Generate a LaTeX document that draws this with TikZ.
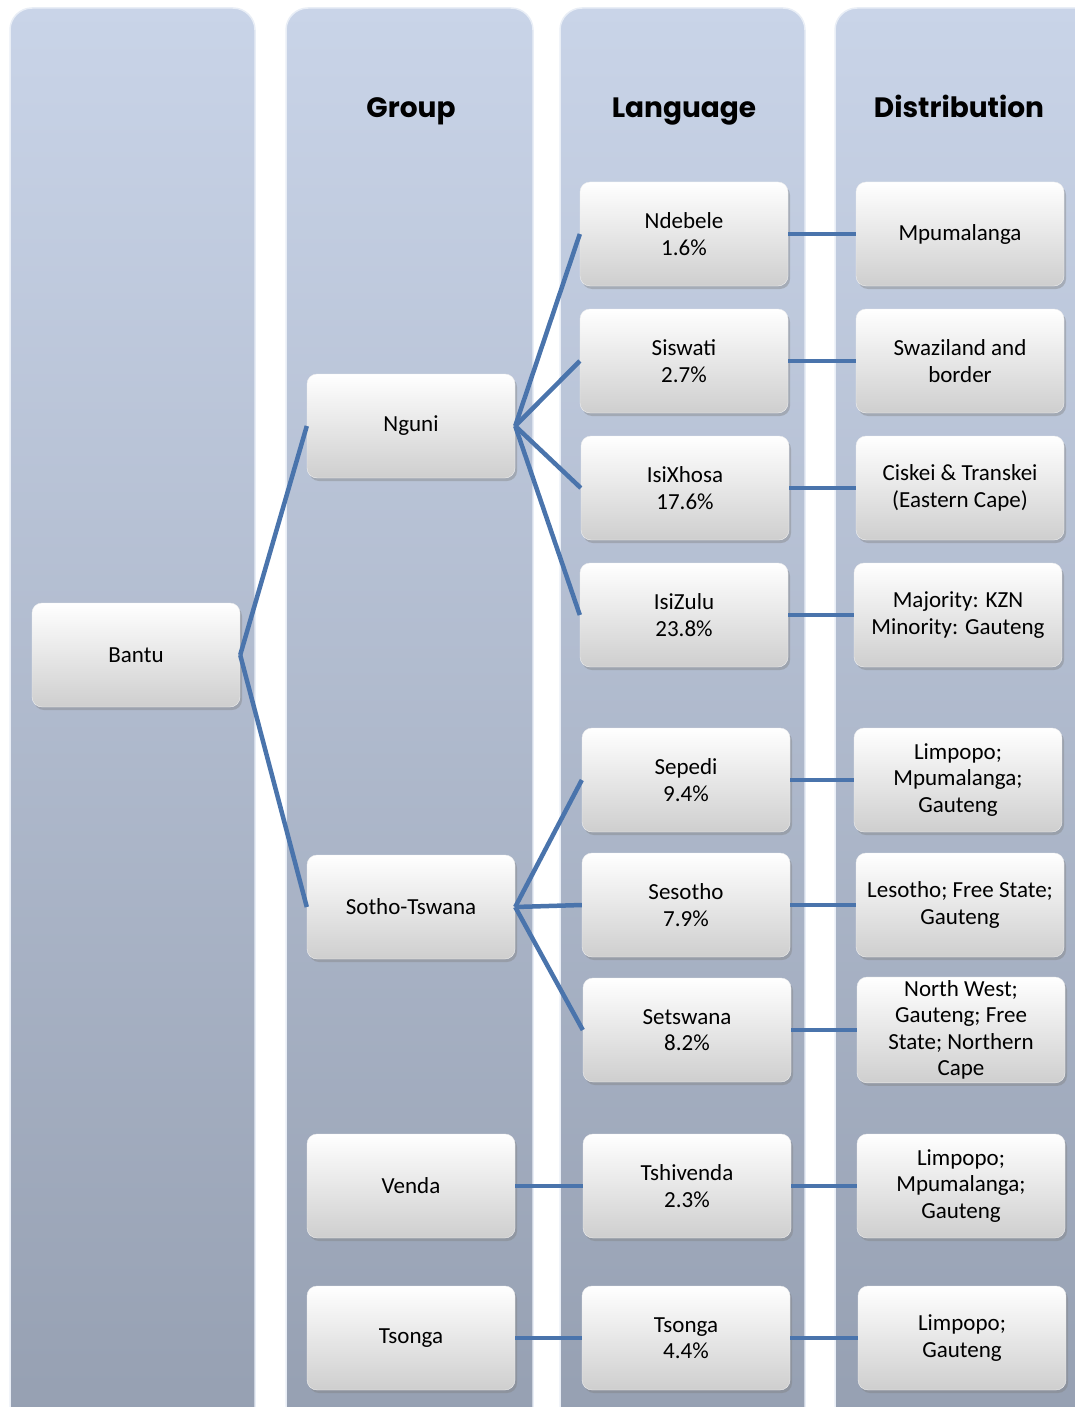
\documentclass[tikz,border=0pt]{standalone}
\usepackage{fontspec}
\setmainfont{Carlito}
\newfontfamily\headfont{Poppins}
\usepackage{xcolor}
\usetikzlibrary{shadows}

\definecolor{colTop}{HTML}{C9D4E8}
\definecolor{colBot}{HTML}{959FB1}
\definecolor{lineBlue}{HTML}{4A74AC}

\begin{document}
\begin{tikzpicture}[x=1pt,y=-1pt]
    %Coordinates are in pixels of the page, y grows downwards.
    \useasboundingbox (0,0) rectangle (1075,1407);
    \begin{scope}
        \clip (0,0) rectangle (1075,1407);
        \begin{scope}[column/.style={rounded corners=22pt, top color=colTop, bottom color=colBot, draw=white!60!colTop, line width=1.5pt}]
            \path [column] (10,8) rectangle (255,1445);
            \path [column] (286,8) rectangle (533,1445);
            \path [column] (560,8) rectangle (805,1445);
            \path [column] (835,8) rectangle (1120,1445);
        \end{scope}
    \end{scope}

    \begin{scope}[every node/.style={anchor=base, font=\headfont\bfseries\fontsize{28}{32}\selectfont}]
        \node (h1) at (411,118) {Group};
        \node (h2) at (684,118) {Language};
        \node (h3) at (959,118) {Distribution};
    \end{scope}

    \begin{scope}[every node/.style={rounded corners=10pt, minimum width=208pt, minimum height=104pt,
                top color=white, bottom color=black!19, draw=black!6,
                drop shadow={opacity=0.4, shadow xshift=2pt, shadow yshift=-3pt},
                align=center, font=\fontsize{23}{26.5}\selectfont}]
        \node (b0) at (136,655) {Bantu};

        \node (g1) at (411,426) {Nguni};
        \node (g2) at (411,907) {Sotho-Tswana};
        \node (g3) at (411,1186) {Venda};
        \node (g4) at (411,1338) {Tsonga};

        \node (l1) at (684,234) {Ndebele\\1.6\%};
        \node (l2) at (684,361) {Siswati\\2.7\%};
        \node (l3) at (685,488) {IsiXhosa\\17.6\%};
        \node (l4) at (684,615) {IsiZulu\\23.8\%};
        \node (l5) at (686,780) {Sepedi\\9.4\%};
        \node (l6) at (686,905) {Sesotho\\7.9\%};
        \node (l7) at (687,1030) {Setswana\\8.2\%};
        \node (l8) at (687,1186) {Tshivenda\\2.3\%};
        \node (l9) at (686,1338) {Tsonga\\4.4\%};

        \node (d1) at (960,234) {Mpumalanga};
        \node (d2) at (960,361) {Swaziland and\\border};
        \node (d3) at (960,488) {Ciskei \& Transkei\\(Eastern Cape)};
        \node (d4) at (958,615) {Majority: KZN\\Minority: Gauteng};
        \node (d5) at (958,780) {Limpopo;\\Mpumalanga;\\Gauteng};
        \node (d6) at (960,905) {Lesotho; Free State;\\Gauteng};
        \node (d7) at (961,1030) {North West;\\Gauteng; Free\\State; Northern\\Cape};
        \node (d8) at (961,1186) {Limpopo;\\Mpumalanga;\\Gauteng};
        \node (d9) at (962,1338) {Limpopo;\\Gauteng};
    \end{scope}

    \begin{scope}[every edge/.style={draw=lineBlue, line width=4.5pt}]
        \path (b0.east) edge (g1.west);
        \path (b0.east) edge (g2.west);

        \path (g1.east) edge (l1.west);
        \path (g1.east) edge (l2.west);
        \path (g1.east) edge (l3.west);
        \path (g1.east) edge (l4.west);
        \path (g2.east) edge (l5.west);
        \path (g2.east) edge (l6.west);
        \path (g2.east) edge (l7.west);
        \path (g3.east) edge (l8.west);
        \path (g4.east) edge (l9.west);

        \path (l1.east) edge (d1.west);
        \path (l2.east) edge (d2.west);
        \path (l3.east) edge (d3.west);
        \path (l4.east) edge (d4.west);
        \path (l5.east) edge (d5.west);
        \path (l6.east) edge (d6.west);
        \path (l7.east) edge (d7.west);
        \path (l8.east) edge (d8.west);
        \path (l9.east) edge (d9.west);
    \end{scope}
\end{tikzpicture}
\end{document}
